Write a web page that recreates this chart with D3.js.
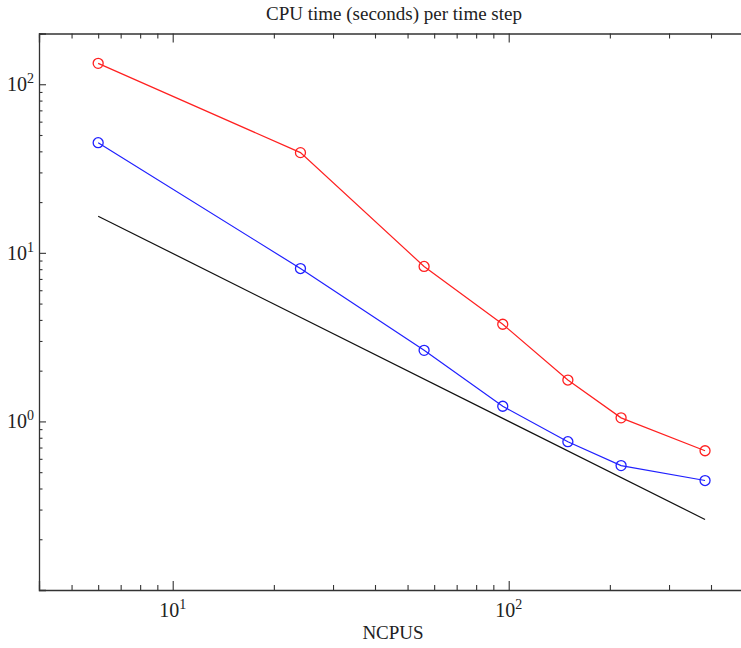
<!DOCTYPE html>
<html>
<head>
<meta charset="utf-8">
<script src="https://cdn.jsdelivr.net/npm/d3@7"></script>
<style>
  body { margin: 0; background: #fff; }
  svg { display: block; font-family: "Liberation Serif", "DejaVu Serif", serif; }
</style>
</head>
<body>
<div id="vis"></div>
<script>
// cpu counts
let ncpus = [6, 24, 56, 96, 150, 216, 384];
// seconds per step, two runs
let redTimes = [133, 39.3, 8.3, 3.77, 1.76, 1.05, 0.67];
let blueTimes = [45, 8.07, 2.64, 1.23, 0.758, 0.547, 0.446];
// ideal scaling reference line
let idealX = [6, 384];
let idealY = [16.5, 0.262];

let xTickVals = [10, 100];
let yTickVals = [1, 10, 100];

let width = 741, height = 648;
let plotLeft = 39, plotTop = 33.5, plotBottom = 590;
let decade = 336;

let svg = d3.select("#vis").append("svg")
    .attr("width", width)
    .attr("height", height);

// x runs off the right side of the picture, like the original
let x = d3.scaleLog()
    .domain([4, 1000])
    .range([plotLeft, plotLeft + decade * Math.log10(1000 / 4)]);
let y = d3.scaleLog()
    .domain([0.1, 200])
    .range([plotBottom, plotTop]);

function minorTicks(dom){
  let out = [];
  let lo = Math.floor(Math.log10(dom[0])), hi = Math.ceil(Math.log10(dom[1]));
  for(let e = lo; e <= hi; e++){
    for(let m = 1; m < 10; m++){
      let v = m * Math.pow(10, e);
      if(v >= dom[0] && v <= dom[1] && m != 1) out.push(v);
    }
  }
  return out;
}

let axisColor = "#333";

// bottom axis
let gx = svg.append("g").attr("transform", "translate(0," + plotBottom + ")")
    .call(d3.axisBottom(x).tickValues(xTickVals).tickSize(-9).tickFormat(""));
gx.append("g").call(d3.axisBottom(x).tickValues(minorTicks(x.domain())).tickSize(-5).tickFormat(""));
// top axis (mirror)
let gt = svg.append("g").attr("transform", "translate(0," + plotTop + ")")
    .call(d3.axisTop(x).tickValues(xTickVals).tickSize(-9).tickFormat(""));
gt.append("g").call(d3.axisTop(x).tickValues(minorTicks(x.domain())).tickSize(-5).tickFormat(""));
// left axis
let gy = svg.append("g").attr("transform", "translate(" + plotLeft + ",0)")
    .call(d3.axisLeft(y).tickValues(yTickVals).tickSize(-7).tickFormat(""));
gy.append("g").call(d3.axisLeft(y).tickValues(minorTicks(y.domain())).tickSize(-3.5).tickFormat(""));

svg.selectAll(".domain").attr("stroke", axisColor).attr("stroke-width", 1.3);
svg.selectAll(".tick line").attr("stroke", axisColor).attr("stroke-width", 1.1);
svg.selectAll("g g .domain").remove();

// tick labels with superscript exponent
xTickVals.forEach(function(v){
  let t = svg.append("text")
      .attr("x", x(v))
      .attr("y", 617)
      .attr("text-anchor", "middle")
      .attr("font-size", 20)
      .attr("fill", "#222");
  t.append("tspan").text("10");
  t.append("tspan").attr("dy", -8).attr("font-size", 14).text(Math.round(Math.log10(v)));
});
yTickVals.forEach(function(v){
  let t = svg.append("text")
      .attr("x", 34)
      .attr("y", y(v) + 7)
      .attr("text-anchor", "end")
      .attr("font-size", 20)
      .attr("fill", "#222");
  t.append("tspan").text("10");
  t.append("tspan").attr("dy", -8).attr("font-size", 14).text(Math.round(Math.log10(v)));
});

svg.append("text")
    .attr("x", 394)
    .attr("y", 20)
    .attr("text-anchor", "middle")
    .attr("font-size", 19)
    .attr("fill", "#222")
    .text("CPU time (seconds) per time step");

svg.append("text")
    .attr("x", 393)
    .attr("y", 639)
    .attr("text-anchor", "middle")
    .attr("font-size", 19)
    .attr("fill", "#222")
    .text("NCPUS");

let line = d3.line()
    .x(function(d){ return x(d[0]); })
    .y(function(d){ return y(d[1]); });

svg.append("path")
    .datum(d3.zip(idealX, idealY))
    .attr("d", line)
    .attr("fill", "none")
    .attr("stroke", "#111")
    .attr("stroke-width", 1.2);

function series(vals, color){
  let pts = d3.zip(ncpus, vals);
  svg.append("path")
      .datum(pts)
      .attr("d", line)
      .attr("fill", "none")
      .attr("stroke", color)
      .attr("stroke-width", 1.2);
  svg.append("g").selectAll("circle")
      .data(pts)
      .enter().append("circle")
      .attr("cx", function(d){ return x(d[0]); })
      .attr("cy", function(d){ return y(d[1]); })
      .attr("r", 5)
      .attr("fill", "none")
      .attr("stroke", color)
      .attr("stroke-width", 1.3);
}
series(redTimes, "#ff2020");
series(blueTimes, "#2020ff");
</script>
</body>
</html>
